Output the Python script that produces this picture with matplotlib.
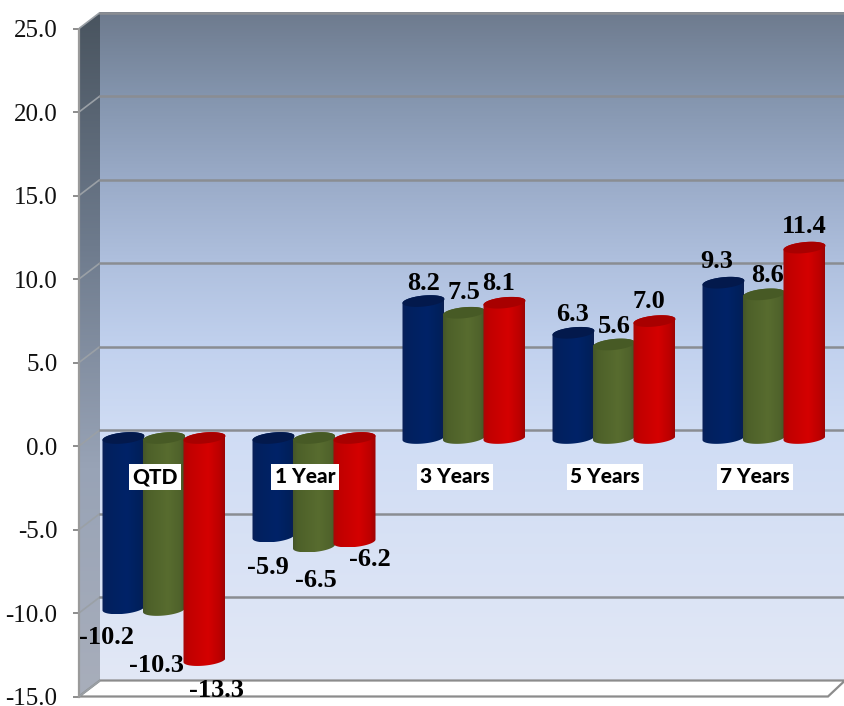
import numpy as np
import matplotlib
matplotlib.use('Agg')
from matplotlib import pyplot as plt
from matplotlib.colors import LinearSegmentedColormap
from matplotlib.patches import Polygon, PathPatch
from matplotlib.path import Path

categories = ['QTD', '1 Year', '3 Years', '5 Years', '7 Years']
blue_values = [-10.2, -5.9, 8.2, 6.3, 9.3]
green_values = [-10.3, -6.5, 7.5, 5.6, 8.6]
red_values = [-13.3, -6.2, 8.1, 7.0, 11.4]
y_ticks = [-15, -10, -5, 0, 5, 10, 15, 20, 25]

# label nudges from the bar end, in pixels (dx, dy up)
blue_nudge = [(-17, -29), (-6, -31), (0, 18), (-1, 18), (-7, 21)]
green_nudge = [(-8, -55), (2, -34), (0, 20), (0, 18), (4, 19)]
red_nudge = [(12, -30), (15, -18), (-6, 19), (-6, 20), (0, 21)]

W, H = 845, 706
PX_X = 150.0      # pixels per category
PX_Y = 16.7       # pixels per value unit
BACK_X = 21 / PX_X
BACK_Y = 16 / PX_Y
BAR_Y = 8 / PX_Y  # bars stand half way into the depth
BAR_W = 42 / PX_X
BAR_STEP = 40.5 / PX_X
CAP_H = 5.5 / PX_Y
CAP_TILT = 2 / PX_Y

SERIF = 'Liberation Serif'


def bar_paths(x, v):
    """outline and top cap of one cylinder"""
    hi = max(v, 0) + BAR_Y
    lo = min(v, 0) + BAR_Y
    t = np.linspace(0, np.pi, 40)
    cx = x + np.cos(t) * BAR_W / 2
    top_half = np.column_stack([cx, hi + np.sin(t) * CAP_H + np.cos(t) * CAP_TILT])
    low_half = np.column_stack([cx[::-1], lo - np.sin(t[::-1]) * CAP_H + np.cos(t[::-1]) * CAP_TILT])
    under = np.column_stack([cx[::-1], hi - np.sin(t[::-1]) * CAP_H + np.cos(t[::-1]) * CAP_TILT])
    return np.vstack([top_half, low_half]), np.vstack([top_half, under])


def draw_bar(ax, x, v, shades, cap, z):
    body, top = bar_paths(x, v)
    cmap = LinearSegmentedColormap.from_list('bar', shades)
    im = ax.imshow(np.linspace(0, 1, 64).reshape(1, -1), cmap=cmap, aspect='auto',
                   extent=(x - BAR_W / 2, x + BAR_W / 2, body[:, 1].min(), body[:, 1].max()),
                   zorder=z, interpolation='bilinear')
    clip = PathPatch(Path(body), transform=ax.transData, facecolor='none', edgecolor='none')
    ax.add_patch(clip)
    im.set_clip_path(clip)
    ax.add_patch(Polygon(top, closed=True, facecolor=cap, edgecolor='none', zorder=z + 0.1))


fig = plt.figure(figsize=(W / 100, H / 100), dpi=100)
ax = fig.add_axes([79 / W, 0, (W - 79) / W, 1])
x_min = (79 - 164) / PX_X
x_max = (845 - 164) / PX_X
y_min = (446 - 706) / PX_Y
y_max = 446 / PX_Y

# back wall
wall = LinearSegmentedColormap.from_list('wall', [
    (0.0, '#6e7b8e'), (0.125, '#8495ae'), (0.25, '#9aabc8'), (0.375, '#afc0de'),
    (0.5, '#c1d1ee'), (0.625, '#cfdcf4'), (1.0, '#e2e8f6')])
ax.imshow(np.linspace(0, 1, 256).reshape(-1, 1), cmap=wall, aspect='auto', origin='upper',
          extent=(x_min + BACK_X, x_max, -15 + BACK_Y, 25 + BACK_Y), zorder=1)

# side wall
side = LinearSegmentedColormap.from_list('side', ['#49545f', '#6d7a8c', '#98a3b6', '#a8aebb'])
im = ax.imshow(np.linspace(0, 1, 256).reshape(-1, 1), cmap=side, aspect='auto', origin='upper',
               extent=(x_min, x_min + BACK_X, -15, 25 + BACK_Y), zorder=1)
side_poly = Polygon([(x_min, 25), (x_min + BACK_X, 25 + BACK_Y), (x_min + BACK_X, -15 + BACK_Y), (x_min, -15)],
                    closed=True, facecolor='none', edgecolor='none', transform=ax.transData)
ax.add_patch(side_poly)
im.set_clip_path(side_poly)

# floor
floor_right = (828 - 164) / PX_X
ax.add_patch(Polygon([(x_min, -15), (x_min + BACK_X, -15 + BACK_Y), (x_max, -15 + BACK_Y), (floor_right, -15)],
                     closed=True, facecolor='white', edgecolor='#8c8c8c', linewidth=1.6, zorder=1.5))

# grid lines, wall part and side part
for t in y_ticks:
    ax.plot([x_min, x_min + BACK_X], [t, t + BACK_Y], color='#9aa0a6', lw=1.2, zorder=2, solid_capstyle='butt')
    if t > -15:
        ax.plot([x_min + BACK_X, x_max], [t + BACK_Y, t + BACK_Y], color='#8a8d92', lw=1.8, zorder=2)

series = [
    (blue_values, blue_nudge,
     [(0, '#0b2158'), (0.1, '#03205e'), (0.6, '#002368'), (0.9, '#01205c'), (1, '#0b1f52')], '#03194c'),
    (green_values, green_nudge,
     [(0, '#44552a'), (0.1, '#4d6029'), (0.6, '#586c2f'), (0.9, '#4f622b'), (1, '#435426')], '#475a25'),
    (red_values, red_nudge,
     [(0, '#a80808'), (0.12, '#c00000'), (0.6, '#d40000'), (0.88, '#bc0000'), (1, '#9c0404')], '#a80000'),
]
for s, (values, nudge, shades, cap) in enumerate(series):
    for i, v in enumerate(values):
        x = i + (s - 1) * BAR_STEP
        draw_bar(ax, x, v, shades, cap, 3 + s)
        dx, dy = nudge[i]
        ax.annotate('%.1f' % v, xy=(x, v + BAR_Y), xytext=(dx * 0.72, dy * 0.72), textcoords='offset points',
                    ha='center', va='center', fontsize=19, fontweight='bold', family=SERIF,
                    color='black', zorder=8, annotation_clip=False)

for i, name in enumerate(categories):
    ax.text(i - 9 / PX_X, -1.85, name, ha='center', va='center', fontsize=15, fontweight='black',
            family='Lato', color='black', zorder=9,
            bbox=dict(facecolor='white', edgecolor='none', pad=2.5))

ax.set_xlim(x_min, x_max)
ax.set_ylim(y_min, y_max)
ax.set_xticks([])
ax.set_yticks(y_ticks)
ax.set_yticklabels(['%.1f' % t for t in y_ticks], family=SERIF, fontsize=18, color='#111111')
ax.tick_params(axis='y', length=4.5, width=1.4, color='#8c8c8c', pad=11)
for name in ['top', 'right', 'bottom']:
    ax.spines[name].set_visible(False)
ax.spines['left'].set_bounds(-15, 25)
ax.spines['left'].set_color('#9a9a9a')
ax.spines['left'].set_linewidth(1.6)
ax.spines['left'].set_zorder(2.5)

fig.savefig('out.png', dpi=100)
